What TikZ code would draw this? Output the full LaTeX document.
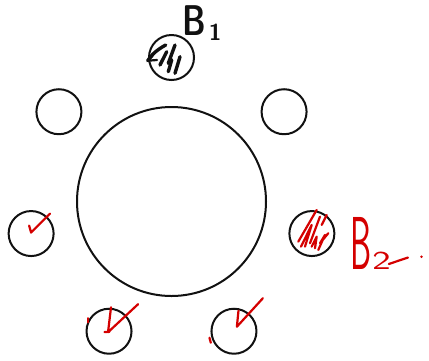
\documentclass[tikz,border=0pt]{standalone}
\usepackage{tikz}
\usepackage{graphicx}
\usetikzlibrary{calc}
\definecolor{inkblack}{HTML}{111111}
\definecolor{inkred}{HTML}{D40000}

\begin{document}
\begin{tikzpicture}[x=1pt, y=-1pt,
    ring/.style={circle, draw=inkblack, line width=2pt, minimum size=189pt, inner sep=0pt},
    seat/.style={circle, draw=inkblack, line width=2pt, minimum size=45pt, inner sep=0pt},
    pen/.style={line width=2.2pt, line cap=round, line join=round, #1},
    pen/.default=inkblack,
    thickpen/.style={pen, line width=3.4pt},
    lbl/.style={font=\sffamily\fontsize{#1}{#1}\selectfont, inner sep=0pt}
  ]
    \useasboundingbox (0,0) rectangle (429,360);

    % table and seats
    \node[ring] (ring) at (171.5,201.5) {};
    \foreach \i in {0,...,6}
      \node[seat] (s\i) at ($(ring.center)+(-90+\i*360/7:144)$) {};

    % labels
    \node[lbl=43, inkblack, anchor=base west] (b1) at (182,35)
      {\bfseries\scalebox{0.75}[1]{B}\hspace{3pt}\raisebox{-5pt}{\fontsize{23}{23}\selectfont 1}};
    \node[lbl=75, inkred, anchor=base west] (b2) at (350,269)
      {\scalebox{0.45}[1]{B}\hspace{1pt}\scalebox{1.5}[1]{\fontsize{26}{26}\selectfont 2}};
    \coordinate (b2tail) at (408,257.5);
    \draw[pen=inkred] (b2.base east) ++(-2,-5) -- (b2tail);
    \fill[inkred] (421.5,256.7) circle (1.3pt);

    % hatching on taken seats
    \begin{scope}[shift={(s0.center)}]
      \draw[thickpen] (-5.8,-12.5) .. controls (-14,-8) and (-20,-3) .. (-23.8,3.2);
      \draw[pen] (-19,-1.5) -- (-23.8,3.2) -- (-14.5,2.5);
      \draw[thickpen] (-4.8,-5.8) -- (-11.5,7.5);
      \draw[thickpen] (3.5,-12.5) -- (-3.2,5.8) -- (0.2,2.5) -- (-3.2,14.2);
      \draw[thickpen] (8.5,-0.8) -- (3.5,15.8);
    \end{scope}
    \begin{scope}[shift={(s2.center)}]
      \draw[pen=inkred] (-13.6,8.1) -- (4.8,-23.6);
      \draw[pen=inkred] (-10.9,13.1) -- (-0.2,-8.6) -- (-6.9,13.1);
      \draw[pen=inkred] (-1.9,9.7) -- (8.1,-16.9);
      \draw[pen=inkred] (-0.2,13.1) -- (4.8,3.1) -- (3.1,14.7);
      \draw[pen=inkred] (6.4,16.4) -- (13.1,1.4) -- (8.1,9.7) -- (16.4,-0.3);
      \draw[pen=inkred] (9.8,-8.6) -- (14.8,-18.6);
    \end{scope}

    % check marks
    \draw[pen=inkred] ($(s5.center)+(-2,-8)$) -- ++(2,7) -- ++(19,-19);
    \draw[pen=inkred] ($(s4.center)+(2,-24)$) -- ++(-3,25) -- ++(30,-28);
    \draw[pen=inkred] ($(s4.center)+(-4.5,0.8)$) -- ++(5,-0.3);
    \draw[pen=inkred] ($(s4.center)+(-21,-13)$) -- ++(0,4);
    \draw[pen=inkred] ($(s3.center)+(4.5,-20.5)$) -- ++(-1.6,16) -- ++(26,-28.5);
    \draw[pen=inkred] ($(s3.center)+(-24.5,6.5)$) -- ++(1.3,5);
  \end{tikzpicture}
\end{document}
